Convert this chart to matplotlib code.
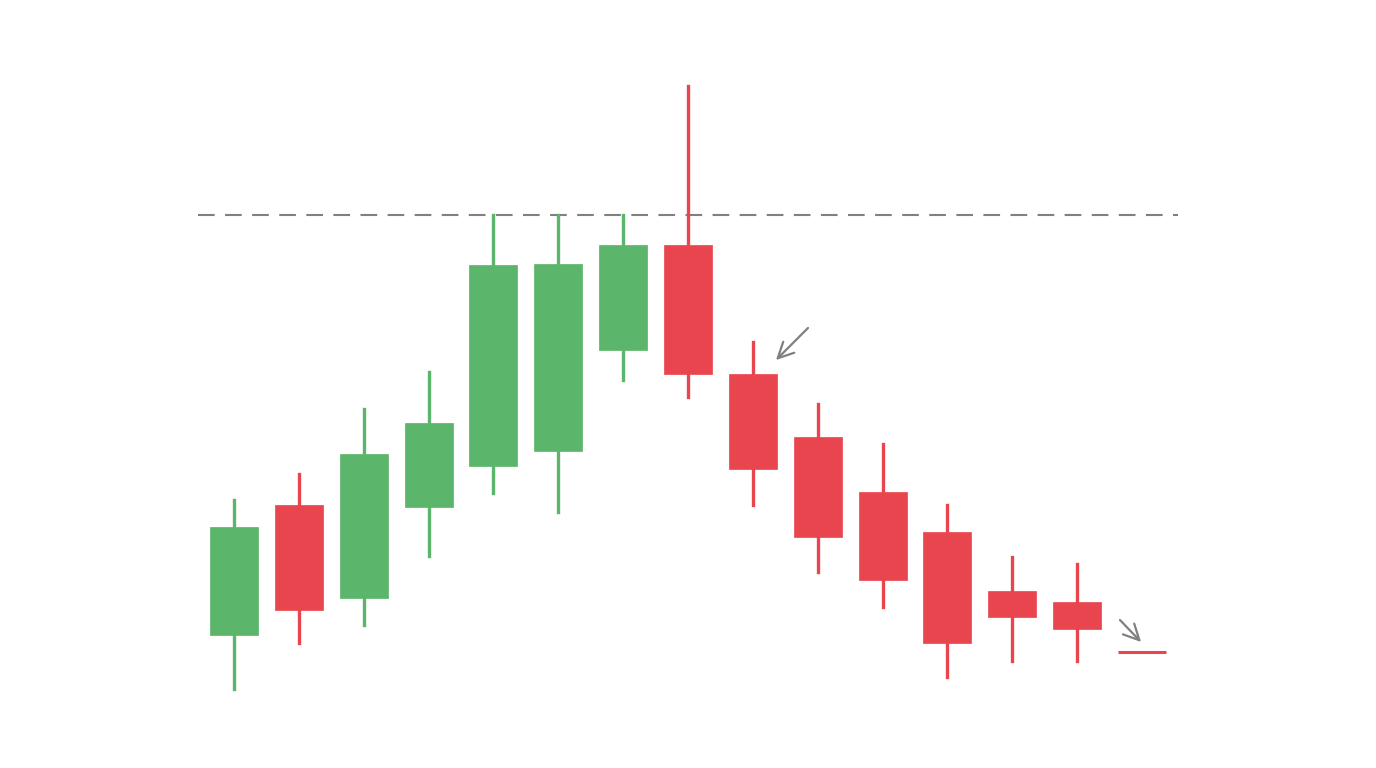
import matplotlib.pyplot as plt
from matplotlib.patches import Rectangle

# candle data (price units; higher = up)
opens  = [133, 263, 170, 261, 302, 317, 418, 523, 394, 331, 276, 236, 177, 166, 116]
closes = [241, 158, 314, 345, 503, 504, 523, 394, 299, 231, 188, 125, 151, 139, 116]
highs  = [268, 294, 359, 396, 553, 553, 553, 682, 426, 364, 324, 263, 211, 204, 116]
lows   = [79, 125, 143, 212, 275, 256, 388, 371, 263, 196, 161, 91, 107, 107, 116]
resistance = 553

green = '#5bb56a'
red = '#e8454f'
grey = '#808080'

fig = plt.figure(figsize=(13.76, 7.68), dpi=100)
ax = fig.add_axes([0, 0, 1, 1])
step = 64.86
ax.set_xlim(-234 / step, (1376 - 234) / step)
ax.set_ylim(0, 768)
ax.axis('off')

w = 48 / step
for i, (o, c, h, l) in enumerate(zip(opens, closes, highs, lows)):
    col = green if c > o else red
    if o == c:
        ax.plot([i - w / 2, i + w / 2], [o, o], color=col, lw=2.2, solid_capstyle='butt')
        continue
    ax.plot([i, i], [l, h], color=col, lw=2.4, zorder=2)
    ax.add_patch(Rectangle((i - w / 2, min(o, c)), w, abs(c - o),
                           facecolor=col, edgecolor=col, lw=0.5, zorder=3))

ax.plot([-0.555, 14.555], [resistance, resistance], color=grey, lw=1.5,
        dashes=(8, 5), zorder=1)

arrow = dict(arrowstyle='->', color=grey, lw=1.6, mutation_scale=28)
ax.annotate('', xy=(8.326, 406), xytext=(8.88, 442), arrowprops=arrow)
ax.annotate('', xy=(14.015, 124), xytext=(13.63, 150), arrowprops=arrow)

fig.savefig('out.png', dpi=100, facecolor='white')
